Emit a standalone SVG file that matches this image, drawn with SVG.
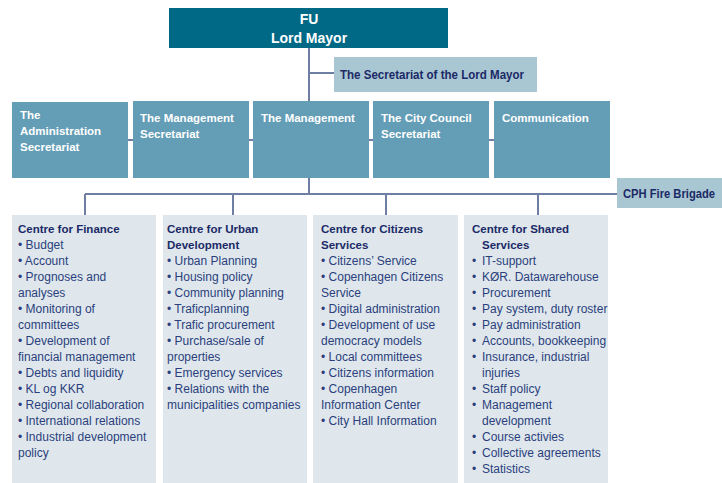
<svg xmlns="http://www.w3.org/2000/svg" width="722" height="483" viewBox="0 0 722 483">
<style>
.top{fill:#006985}
.mid{fill:#639db6}
.lt{fill:#a9c6d3}
.ctr{fill:#dfe7ed}
.wt{font-family:"Liberation Sans",Arial,sans-serif;font-weight:bold;fill:#ffffff}
.nv{font-family:"Liberation Sans",Arial,sans-serif;font-weight:bold;fill:#1b2a66;font-size:12px}
.hd{font-family:"Liberation Sans",Arial,sans-serif;font-weight:bold;fill:#1b2a66;font-size:11.5px}
.it{font-family:"Liberation Sans",Arial,sans-serif;fill:#2b3f7c;font-size:12px}
.ln{stroke:#6f7fa3;stroke-width:2;fill:none}
</style>
<rect width="722" height="483" fill="#ffffff"/>
<g id="connectors">
<path class="ln" d="M309 48V101M309 73H334M128 140H494M309 178V194M85 194H617M85 194V215M233 194V215M386 194V215M538 194V215"/>
</g>
<g id="fu">
<rect class="top" x="169" y="8" width="279" height="40"/>
<text class="wt" x="309" y="24" font-size="14" text-anchor="middle">FU</text>
<text class="wt" x="309" y="43" font-size="14" text-anchor="middle">Lord Mayor</text>
</g>
<g id="secretariat-lord-mayor">
<rect class="lt" x="334" y="57" width="203" height="35"/>
<text class="nv" x="340" y="79" textLength="184" lengthAdjust="spacingAndGlyphs">The Secretariat of the Lord Mayor</text>
</g>
<g id="administration-secretariat">
<rect class="mid" x="12" y="102" width="116" height="76"/>
<text class="wt" font-size="11.5" x="20" y="119">The</text>
<text class="wt" font-size="11.5" x="20" y="135">Administration</text>
<text class="wt" font-size="11.5" x="20" y="151">Secretariat</text>
</g>
<g id="management-secretariat">
<rect class="mid" x="133" y="101" width="116" height="77"/>
<text class="wt" font-size="11.5" x="140" y="122">The Management</text>
<text class="wt" font-size="11.5" x="140" y="138">Secretariat</text>
</g>
<g id="management">
<rect class="mid" x="253" y="101" width="116" height="77"/>
<text class="wt" font-size="11.5" x="261" y="122">The Management</text>
</g>
<g id="city-council-secretariat">
<rect class="mid" x="373" y="101" width="116" height="77"/>
<text class="wt" font-size="11.5" x="381" y="122">The City Council</text>
<text class="wt" font-size="11.5" x="381" y="138">Secretariat</text>
</g>
<g id="communication">
<rect class="mid" x="494" y="101" width="116" height="77"/>
<text class="wt" font-size="11.5" x="502" y="122">Communication</text>
</g>
<g id="cph-fire-brigade">
<rect class="lt" x="617" y="178" width="105" height="30"/>
<text class="nv" x="623" y="198" textLength="92" lengthAdjust="spacingAndGlyphs">CPH Fire Brigade</text>
</g>
<g id="centre-finance">
<rect class="ctr" x="12" y="215" width="144" height="268"/>
<text class="hd" x="18" y="233">Centre for Finance</text>
<text class="it" x="18" y="249">• Budget</text>
<text class="it" x="18" y="265">• Account</text>
<text class="it" x="18" y="281">• Prognoses and</text>
<text class="it" x="18" y="297">analyses</text>
<text class="it" x="18" y="313">• Monitoring of</text>
<text class="it" x="18" y="329">committees</text>
<text class="it" x="18" y="345">• Development of</text>
<text class="it" x="18" y="361">financial management</text>
<text class="it" x="18" y="377">• Debts and liquidity</text>
<text class="it" x="18" y="393">• KL og KKR</text>
<text class="it" x="18" y="409">• Regional collaboration</text>
<text class="it" x="18" y="425">• International relations</text>
<text class="it" x="18" y="441">• Industrial development</text>
<text class="it" x="18" y="457">policy</text>
</g>
<g id="centre-urban">
<rect class="ctr" x="163" y="215" width="144" height="268"/>
<text class="hd" x="167" y="233">Centre for Urban</text>
<text class="hd" x="167" y="249">Development</text>
<text class="it" x="167" y="265">• Urban Planning</text>
<text class="it" x="167" y="281">• Housing policy</text>
<text class="it" x="167" y="297">• Community planning</text>
<text class="it" x="167" y="313">• Traficplanning</text>
<text class="it" x="167" y="329">• Trafic procurement</text>
<text class="it" x="167" y="345">• Purchase/sale of</text>
<text class="it" x="167" y="361">properties</text>
<text class="it" x="167" y="377">• Emergency services</text>
<text class="it" x="167" y="393">• Relations with the</text>
<text class="it" x="167" y="409">municipalities companies</text>
</g>
<g id="centre-citizens">
<rect class="ctr" x="313" y="215" width="145" height="268"/>
<text class="hd" x="321" y="233">Centre for Citizens</text>
<text class="hd" x="321" y="249">Services</text>
<text class="it" x="321" y="265">• Citizens’ Service</text>
<text class="it" x="321" y="281">• Copenhagen Citizens</text>
<text class="it" x="321" y="297">Service</text>
<text class="it" x="321" y="313">• Digital administration</text>
<text class="it" x="321" y="329">• Development of use</text>
<text class="it" x="321" y="345">democracy models</text>
<text class="it" x="321" y="361">• Local committees</text>
<text class="it" x="321" y="377">• Citizens information</text>
<text class="it" x="321" y="393">• Copenhagen</text>
<text class="it" x="321" y="409">Information Center</text>
<text class="it" x="321" y="425">• City Hall Information</text>
</g>
<g id="centre-shared">
<rect class="ctr" x="464" y="215" width="144" height="268"/>
<text class="hd" x="472" y="233">Centre for Shared</text>
<text class="hd" x="482" y="249">Services</text>
<text class="it" y="265"><tspan x="472">•</tspan><tspan x="482">IT-support</tspan></text>
<text class="it" y="281"><tspan x="472">•</tspan><tspan x="482">KØR. Datawarehouse</tspan></text>
<text class="it" y="297"><tspan x="472">•</tspan><tspan x="482">Procurement</tspan></text>
<text class="it" y="313"><tspan x="472">•</tspan><tspan x="482">Pay system, duty roster</tspan></text>
<text class="it" y="329"><tspan x="472">•</tspan><tspan x="482">Pay administration</tspan></text>
<text class="it" y="345"><tspan x="472">•</tspan><tspan x="482">Accounts, bookkeeping</tspan></text>
<text class="it" y="361"><tspan x="472">•</tspan><tspan x="482">Insurance, industrial</tspan></text>
<text class="it" x="482" y="377">injuries</text>
<text class="it" y="393"><tspan x="472">•</tspan><tspan x="482">Staff policy</tspan></text>
<text class="it" y="409"><tspan x="472">•</tspan><tspan x="482">Management</tspan></text>
<text class="it" x="482" y="425">development</text>
<text class="it" y="441"><tspan x="472">•</tspan><tspan x="482">Course activies</tspan></text>
<text class="it" y="457"><tspan x="472">•</tspan><tspan x="482">Collective agreements</tspan></text>
<text class="it" y="473"><tspan x="472">•</tspan><tspan x="482">Statistics</tspan></text>
</g>
</svg>
